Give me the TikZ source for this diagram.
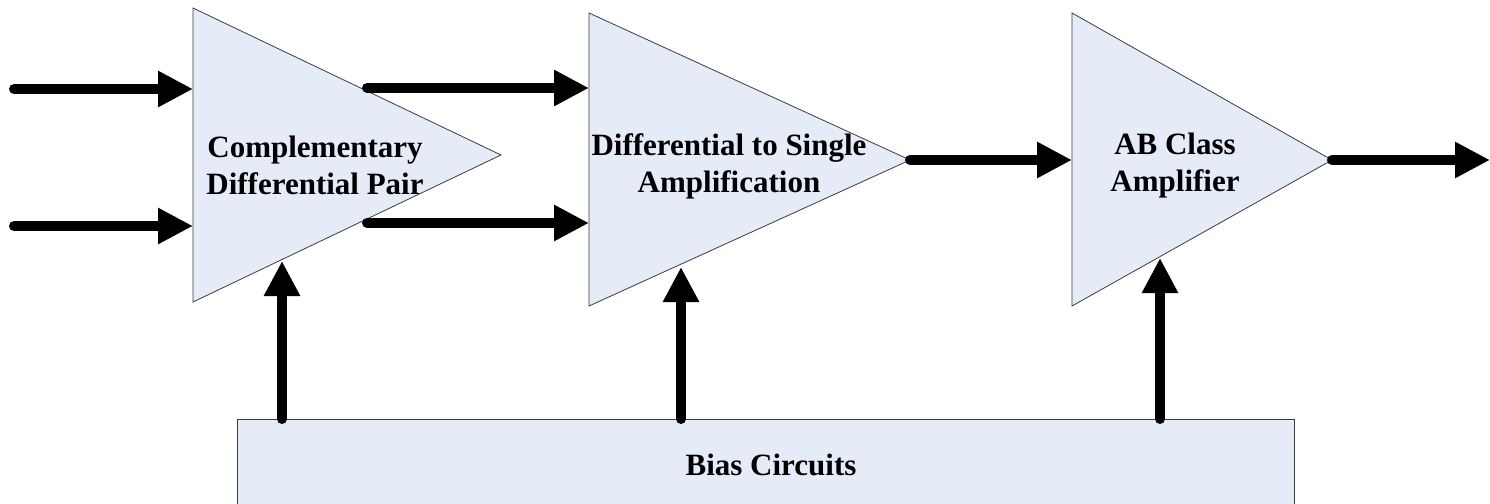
\documentclass[tikz,border=0pt]{standalone}
\usepackage{fontspec}
\setmainfont{Liberation Serif}
\usetikzlibrary{arrows.meta}
\definecolor{boxfill}{RGB}{230,236,247}
\definecolor{edgegray}{RGB}{60,60,60}
\begin{document}
\begin{tikzpicture}[x=1pt,y=-1pt,
  blk/.style={fill=boxfill,draw=edgegray,line width=0.8pt,line join=miter},
  sig/.style={line width=10pt,line cap=round,-{Triangle[length=35pt,width=34pt]}},
  lbl/.style={font=\bfseries\fontsize{31}{37}\selectfont,align=center,inner sep=0pt}]
\useasboundingbox (0,0) rectangle (1490,503);
\clip (0,0) rectangle (1490,503);
% triangle corners
\coordinate (t1a) at (193,8);   \coordinate (t1b) at (193,302); \coordinate (t1o) at (501,155);
\coordinate (t2a) at (589,13);  \coordinate (t2b) at (589,306); \coordinate (t2o) at (910,160);
\coordinate (t3a) at (1072,13); \coordinate (t3b) at (1072,306); \coordinate (t3o) at (1332,160);
\draw[blk] (t1a) -- (t1o) -- (t1b) -- cycle;
\draw[blk] (t2a) -- (t2o) -- (t2b) -- cycle;
\draw[blk] (t3a) -- (t3o) -- (t3b) -- cycle;
% bias box
\draw[blk] (237,419) rectangle (1294,515);
\node[lbl] (bias) at (771,465) {Bias Circuits};
% labels
\node[lbl] (l1) at (315,165) {Complementary\\Differential Pair};
\node[lbl] (l2) at (729,166) {Differential to Single\\Amplification};
\node[lbl] (l3) at (1175,166) {AB Class\\Amplifier};
% connector ends
\coordinate (in1) at (14,89);   \coordinate (in1e) at (193,89);
\coordinate (in2) at (14,226);  \coordinate (in2e) at (193,226);
\coordinate (o1) at (367,88);   \coordinate (o1e) at (589,88);
\coordinate (o2) at (367,223);  \coordinate (o2e) at (589,223);
\coordinate (out) at (1490,160);
\coordinate (b1) at (282,419);  \coordinate (b1e) at (282,261);
\coordinate (b2) at (681,419);  \coordinate (b2e) at (681,267);
\coordinate (b3) at (1160,419); \coordinate (b3e) at (1160,258);
\draw[sig] (in1) -- (in1e);
\draw[sig] (in2) -- (in2e);
\draw[sig] (o1) -- (o1e);
\draw[sig] (o2) -- (o2e);
\draw[sig] (t2o) -- (t3a |- t2o);
\draw[sig] (t3o) -- (out);
\draw[sig] (b1) -- (b1e);
\draw[sig] (b2) -- (b2e);
\draw[sig] (b3) -- (b3e);
\end{tikzpicture}
\end{document}
